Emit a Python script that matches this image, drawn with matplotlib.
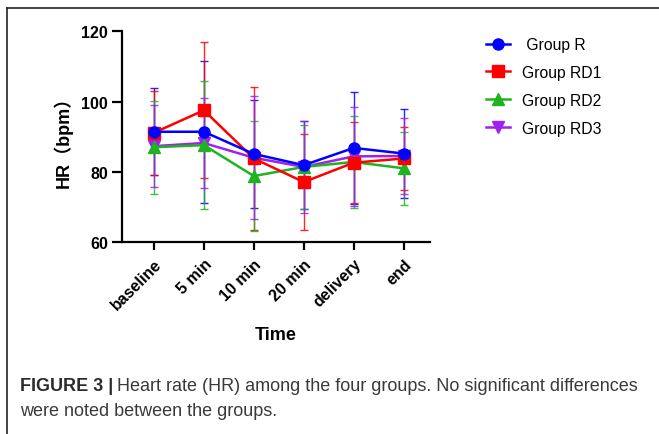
import matplotlib.pyplot as plt
from matplotlib.lines import Line2D

plt.rcParams['font.family'] = ['Liberation Sans', 'Noto Sans CJK SC', 'DejaVu Sans']

times = ['baseline', '5 min', '10 min', '20 min', 'delivery', 'end']
groups = [' Group R', 'Group RD1', 'Group RD2', 'Group RD3']

hr_r = [91.4, 91.4, 85.1, 81.9, 86.8, 85.2]
sd_r = [12.4, 20.2, 15.4, 12.5, 16.0, 12.6]
hr_rd1 = [91.1, 97.5, 83.8, 77.1, 82.6, 83.8]
sd_rd1 = [12.0, 19.3, 20.4, 13.7, 11.6, 9.0]
hr_rd2 = [87.0, 87.6, 78.8, 81.4, 82.8, 81.0]
sd_rd2 = [13.2, 18.3, 15.7, 12.0, 13.2, 10.3]
hr_rd3 = [87.3, 88.2, 84.0, 81.4, 84.4, 84.5]
sd_rd3 = [11.6, 12.8, 17.5, 13.0, 14.0, 10.8]

colors = ['#0000ff', '#ff0000', '#1fb41f', '#a020f0']
markers = ['o', 's', '^', 'v']

fig = plt.figure(figsize=(6.59, 4.35), dpi=100)
ax = fig.add_axes([0.185, 0.441, 0.467, 0.485])

x = list(range(len(times)))
series = [(hr_r, sd_r), (hr_rd1, sd_rd1), (hr_rd2, sd_rd2), (hr_rd3, sd_rd3)]
# draw last group first so Group R ends on top
for i in [3, 2, 1, 0]:
    m, s = series[i]
    ax.errorbar(x, m, yerr=s, color=colors[i], ecolor=colors[i], elinewidth=1,
                capsize=2.7, capthick=1, fmt='none', alpha=0.85, zorder=2 + i * 0.01)
    ax.plot(x, m, color=colors[i], marker=markers[i], markersize=8, lw=1.8,
            label=groups[i], zorder=3 + (3 - i))

ax.set_ylim(60, 120)
ax.set_yticks([60, 80, 100, 120])
ax.set_xlim(-0.64, 5.52)
ax.set_xticks(x)
ax.set_xticklabels(times, rotation=45, ha='right', rotation_mode='anchor')
for lab in ax.get_xticklabels() + ax.get_yticklabels():
    lab.set_fontweight('bold')
    lab.set_fontsize(11.5)
ax.spines['top'].set_visible(False)
ax.spines['right'].set_visible(False)
for sp in ['left', 'bottom']:
    ax.spines[sp].set_linewidth(1.6)
ax.tick_params(axis='y', length=7, width=1.6, pad=3)
ax.tick_params(axis='x', length=6, width=1.6, pad=4)

ax.set_xlabel('Time', fontsize=13, fontweight='bold', labelpad=10)
ax.set_ylabel('HR（bpm）', fontsize=13, fontweight='bold', labelpad=6)

handles, labels = ax.get_legend_handles_labels()
order = [labels.index(g) for g in groups]
fig.legend([handles[k] for k in order], [labels[k] for k in order],
           loc='upper left', bbox_to_anchor=(0.716, 0.945), frameon=False,
           fontsize=11.3, handlelength=1.5, labelspacing=0.82, handletextpad=0.8)

# caption
fig.text(0.03, 0.101, 'FIGURE 3 |', fontsize=13, fontweight='bold', color='#2b2b2b',
         va='baseline')
fig.text(0.178, 0.101, 'Heart rate (HR) among the four groups. No significant differences',
         fontsize=13, color='#3a3a3a', va='baseline')
fig.text(0.03, 0.044, 'were noted between the groups.', fontsize=13, color='#3a3a3a',
         va='baseline')

# page frame
fig.add_artist(Line2D([0.011, 0.011], [0.0, 0.979], color='#222222', lw=1.2))
fig.add_artist(Line2D([0.011, 1.0], [0.979, 0.979], color='#222222', lw=1.2))

fig.savefig('out.png', dpi=100)
